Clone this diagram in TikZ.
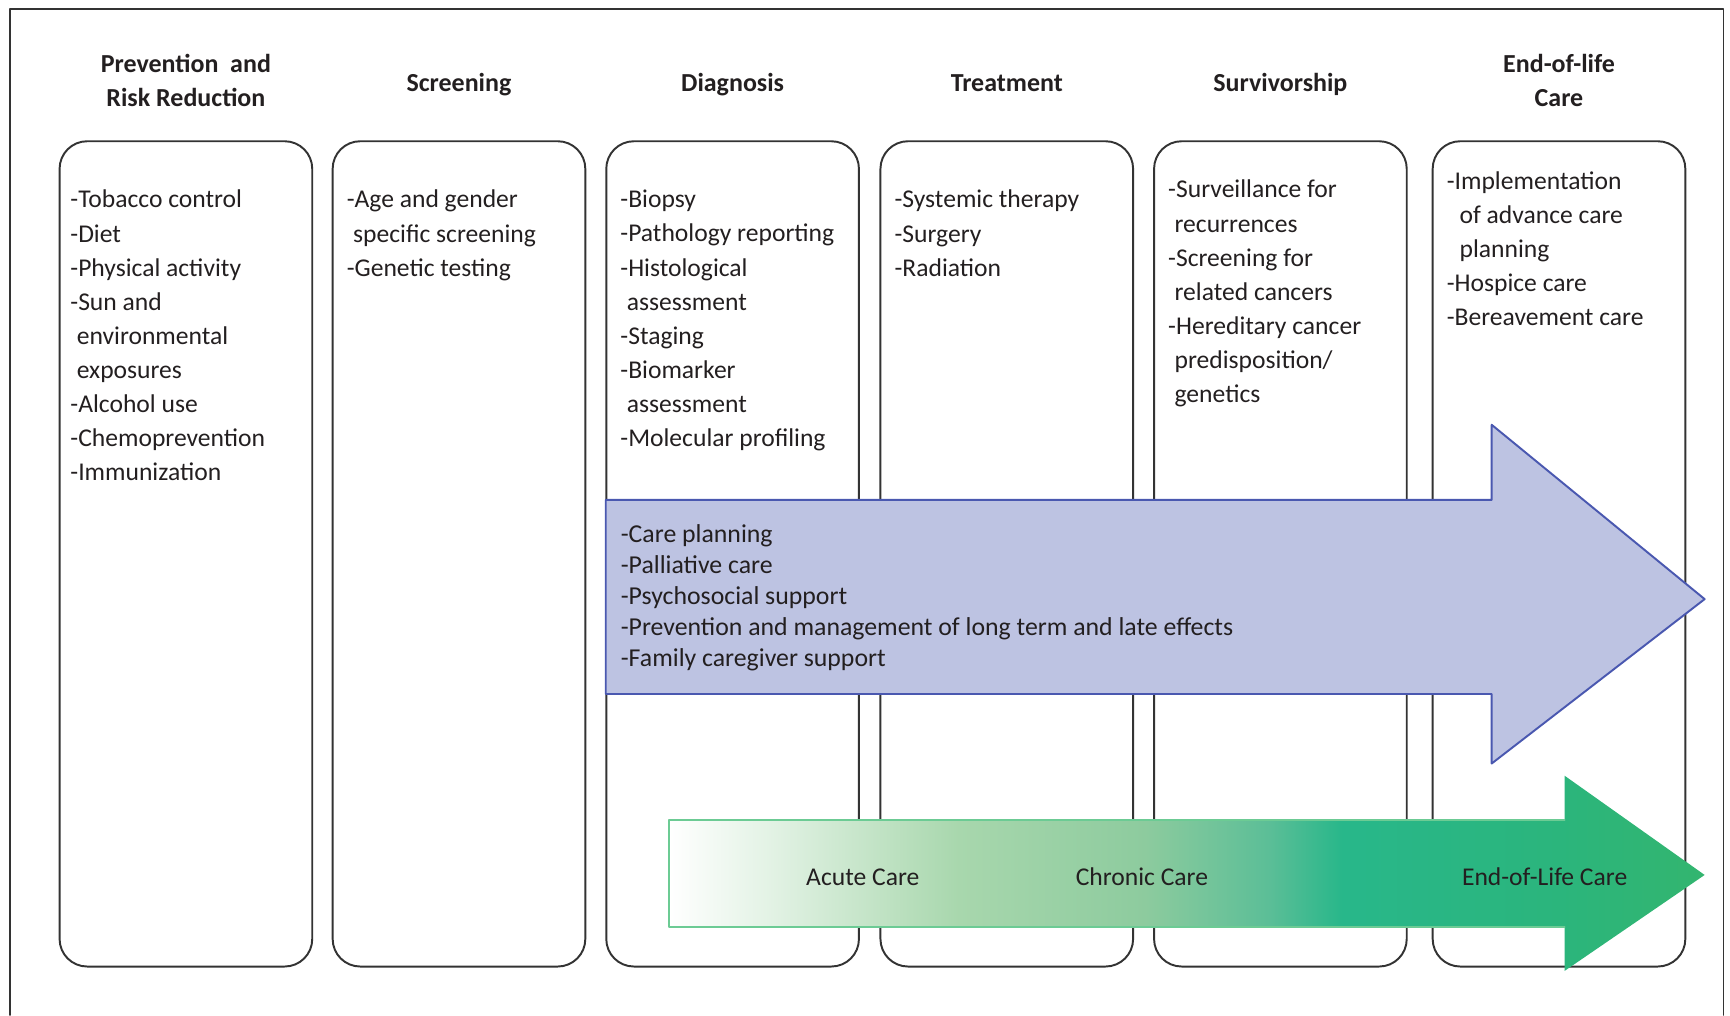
\documentclass[tikz,border=0pt]{standalone}
\usepackage{fontspec}
\setmainfont{Carlito}
\usetikzlibrary{positioning}
\definecolor{linegray}{HTML}{333333}
\definecolor{txt}{HTML}{231F20}
\definecolor{bluefill}{HTML}{BDC3E2}
\definecolor{blueline}{HTML}{4A58B0}
\definecolor{greenline}{HTML}{6CCB94}
\definecolor{gA}{HTML}{E2F2E4}
\definecolor{gB}{HTML}{A8D7AD}
\definecolor{gC}{HTML}{8DCB9E}
\definecolor{gD}{HTML}{5BBE97}
\definecolor{gE}{HTML}{28B78A}
\definecolor{gF}{HTML}{2BB57C}
\definecolor{gG}{HTML}{33B56F}
\pgfdeclarehorizontalshading{caregrad}{100bp}{color(0bp)=(white); color(25bp)=(white); color(30bp)=(gA); color(39bp)=(gB); color(48bp)=(gC); color(54bp)=(gD); color(57.5bp)=(gE); color(68bp)=(gF); color(75bp)=(gG); color(100bp)=(gG)}
\newcommand{\indt}{\hspace*{.25em}}
\begin{document}
\begin{tikzpicture}[font=\fontsize{6.6}{8.8}\selectfont, line join=round, line cap=round, text=txt,
	col/.style={draw=linegray, line width=.5pt, rounded corners=2.5mm, minimum width=2.29cm, minimum height=7.48cm},
	head/.style={font=\fontsize{6.7}{8.8}\selectfont\bfseries, align=center},
	items/.style={anchor=north west, inner sep=0pt, align=left}]
	\useasboundingbox (0,0) rectangle (15.68,-9.20);
	\draw[linegray, line width=.4pt] (0.09,-9.20) |- (15.62,-0.08) -- (15.62,-9.20);% frame
	\foreach \i/\x in {1/1.685,2/4.16,3/6.64,4/9.125,5/11.605,6/14.13}
	\node[col] (c\i) at (\x,-5.02) {};
	\foreach \i/\y/\t in {1/0.54/{Prevention\ \ and\\Risk Reduction},2/0.505/Screening,3/0.505/Diagnosis,4/0.52/Treatment,5/0.505/Survivorship,6/0.54/{End-of-life\\Care}}
	\path (c\i.north) ++(0,\y) node[head] (h\i) {\t};% column titles
	\node[items, below right=0.445 and 0.10 of c1.north west] (t1) {-Tobacco control\\-Diet\\-Physical activity\\-Sun and\\\indt environmental\\\indt exposures\\-Alcohol use\\-Chemoprevention\\-Immunization};
	\node[items, below right=0.445 and 0.13 of c2.north west] (t2) {-Age and gender\\\indt specific screening\\-Genetic testing};
	\node[items, below right=0.445 and 0.13 of c3.north west] (t3) {-Biopsy\\-Pathology reporting\\-Histological\\\indt assessment\\-Staging\\-Biomarker\\\indt assessment\\-Molecular profiling};
	\node[items, below right=0.445 and 0.13 of c4.north west] (t4) {-Systemic therapy\\-Surgery\\-Radiation};
	\node[items, below right=0.355 and 0.13 of c5.north west] (t5) {-Surveillance for\\\indt recurrences\\-Screening for\\\indt related cancers\\-Hereditary cancer\\\indt predisposition/\\\indt genetics};
	\node[items, below right=0.275 and 0.13 of c6.north west] (t6) {-Implementation\\\indt\indt of advance care\\\indt\indt planning\\-Hospice care\\-Bereavement care};
	% blue arrow
	\coordinate (btl) at (5.49,-4.53);
	\draw[fill=bluefill, draw=blueline, line width=.5pt] (btl) -- (13.52,-4.53) -- (13.52,-3.85) -- (15.45,-5.43) -- (13.52,-6.92) -- (13.52,-6.29) -- (5.49,-6.29) -- cycle;
	\node[items, font=\fontsize{6.65}{8.0}\selectfont, below right=0.215 and 0.13 of btl] (care) {-Care planning\\-Palliative care\\-Psychosocial support\\-Prevention and management of long term and late effects\\-Family caregiver support};
	% green arrow
	\shade[shading=caregrad] (6.06,-7.43) -- (14.18,-7.43) -- (14.18,-7.03) -- (15.45,-7.93) -- (14.18,-8.80) -- (14.18,-8.40) -- (6.06,-8.40) -- cycle;
	\draw[greenline, line width=.5pt] (14.18,-7.43) -- (6.06,-7.43) -- (6.06,-8.40) -- (14.18,-8.40);
	\foreach \n/\x/\t in {acute/7.82/Acute Care,chronic/10.35/Chronic Care,eol/14.00/End-of-Life Care}
	\node (\n) at (\x,-7.95) {\t};
\end{tikzpicture}
\end{document}
